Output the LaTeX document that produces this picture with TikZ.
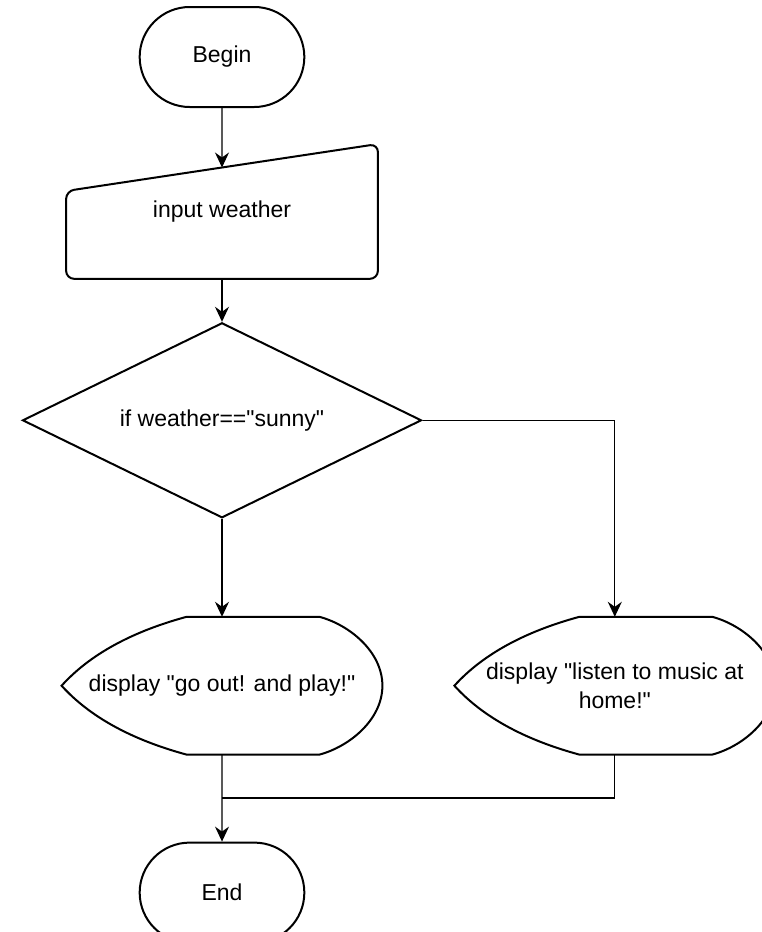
\documentclass[tikz,border=0pt]{standalone}
\usepackage{fontspec}
\setmainfont{Liberation Sans}[Ligatures=TeXOff]
\usepackage{tikz}
\usetikzlibrary{calc}
\usetikzlibrary{arrows.meta, positioning, shapes.geometric, shapes.misc}
\newcommand{\displayoutline}[1]{%
	\draw[outline] (#1.west)
		.. controls ($(#1.west)+(14pt,15.5pt)$) and ($(#1.west)+(35pt,27pt)$) .. ([xshift=62.5pt]#1.north west)
		-- ([xshift=-31.5pt]#1.north east)
		.. controls ($(#1.north east)+(-16.5pt,-4pt)$) and ($(#1.east)+(0pt,17pt)$) .. (#1.east)
		.. controls ($(#1.east)+(0pt,-17pt)$) and ($(#1.south east)+(-16.5pt,4pt)$) .. ([xshift=-31.5pt]#1.south east)
		-- ([xshift=62.5pt]#1.south west)
		.. controls ($(#1.west)+(35pt,-27pt)$) and ($(#1.west)+(14pt,-15.5pt)$) .. (#1.west) -- cycle;}

\begin{document}
\begin{tikzpicture}[
		every node/.style={font=\fontsize{11.5}{14.5}\selectfont},
		outline/.style={draw, line width=1pt},
		terminal/.style={rounded rectangle, outline, minimum width=89pt, minimum height=50pt},
		inbox/.style={minimum width=155.5pt, minimum height=67pt},
		decision/.style={diamond, outline, aspect=2.05, minimum width=199.5pt, minimum height=97.5pt, inner sep=0pt},
		outbox/.style={minimum width=160pt, minimum height=68.5pt, align=center},
		conn/.style={line width=0.65pt},
		connarrow/.style={conn, -{Stealth[length=7.5pt, width=7pt, inset=2.5pt]}}
	]
	% Page
	\fill[white] (0pt,0pt) rectangle (380.5pt,-466pt);
	\useasboundingbox (0pt,0pt) rectangle (380.5pt,-466pt);

	% Begin
	\node[terminal] (begin) at (111pt,-28.5pt) {Begin};

	% Input
	\node[inbox, below=18pt of begin] (input) {input weather};
	\draw[outline, rounded corners=4pt] (input.south west) -- ([yshift=-23.5pt]input.north west) -- (input.north east) -- (input.south east) -- cycle;
	\coordinate (inputtop) at ($([yshift=-23.5pt]input.north west)!0.5!(input.north east)$);
	\draw[connarrow] (begin) -- (inputtop);

	% Decision
	\node[decision, below=21.5pt of input] (decision) {if weather=="sunny"};
	\draw[connarrow] (input) -- (decision);

	% Outputs
	\node[outbox, below=49pt of decision] (goout) {display "go out! and play!"};
	\displayoutline{goout}
	\node[outbox, right=36pt of goout] (listen) {display "listen to music at\\home!"};
	\displayoutline{listen}
	\draw[connarrow] (decision) -- (goout);
	\draw[connarrow] (decision.east) -| (listen.north);

	% End
	\node[terminal, below=43.5pt of goout] (end) {End};
	\coordinate (join) at ($(goout.south)!0.5!(end.north)$);
	\draw[connarrow] (goout) -- (end);
	\draw[conn] (listen.south) |- (join);
\end{tikzpicture}
\end{document}
